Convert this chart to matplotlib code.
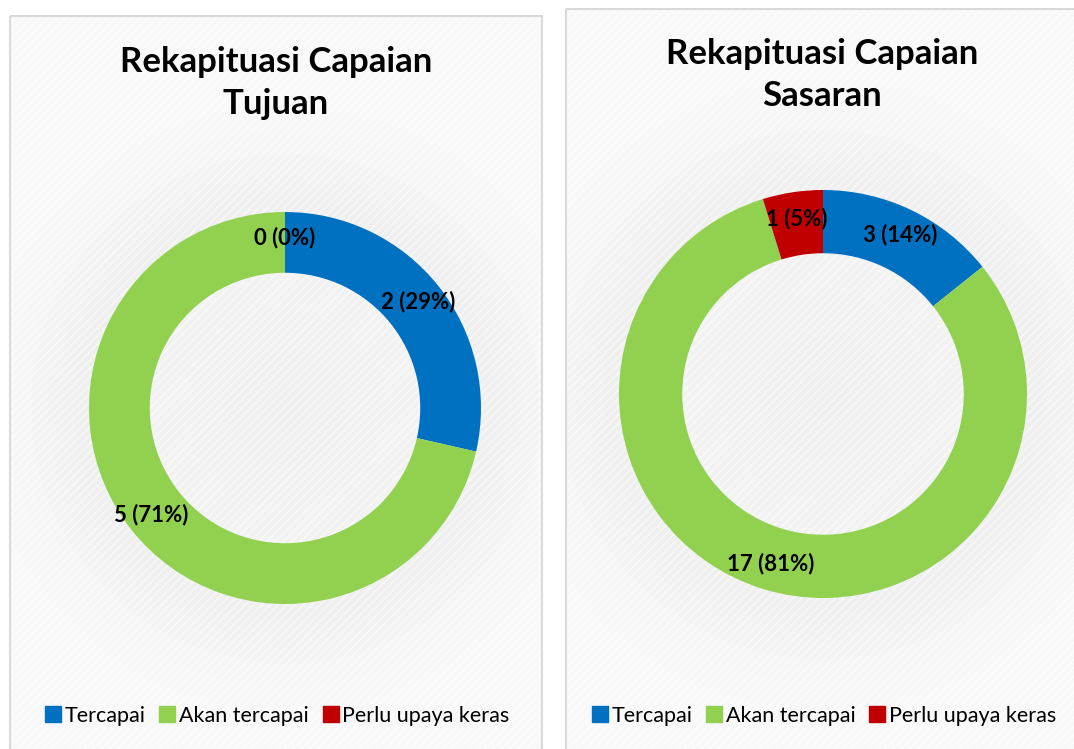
import numpy as np
import matplotlib
matplotlib.use('Agg')
import matplotlib.pyplot as plt
from matplotlib.patches import Rectangle
from matplotlib.lines import Line2D

# data
categories = ['Tercapai', 'Akan tercapai', 'Perlu upaya keras']
colors = ['#0070C0', '#92D050', '#C00000']
tujuan_values = [2, 5, 0]
sasaran_values = [3, 17, 1]
titles = ['Rekapituasi Capaian\nTujuan', 'Rekapituasi Capaian\nSasaran']

W, H = 1074, 749
plt.rcParams['font.family'] = ['Lato', 'DejaVu Sans']
plt.rcParams['hatch.linewidth'] = 1.2
fig = plt.figure(figsize=(W / 100, H / 100), dpi=100)
fig.patch.set_facecolor('white')


def px_box(x0, y0, w, h):
    # kotak w pikselach (od gory) -> ulamki figury
    return [x0 / W, 1 - (y0 + h) / H, w / W, h / H]


def panel(box, title, title_y, values, center, R):
    x0, y0, pw, ph = box
    bg = fig.add_axes(px_box(x0, y0, pw, ph))
    bg.set_xlim(0, pw)
    bg.set_ylim(ph, 0)
    bg.axis('off')
    # cien wokol pierscienia
    xx, yy = np.meshgrid(np.arange(pw), np.arange(ph))
    cx, cy = center[0] - x0, center[1] - y0
    rr = np.hypot(xx - cx, yy - cy)
    field = 0.97 - 0.035 * np.exp(-((rr - R) / (0.3 * R)) ** 2)
    field = np.where(rr < R, 0.935 + 0.02 * (rr / R), field)
    bg.imshow(field, cmap='gray', vmin=0, vmax=1, extent=(0, pw, ph, 0),
              interpolation='bilinear', zorder=0)
    bg.add_patch(Rectangle((0, 0), pw, ph, facecolor='none', edgecolor='white',
                           hatch='////', linewidth=0, alpha=0.55, zorder=1))
    bg.add_patch(Rectangle((0.5, 0.5), pw - 1, ph + 5, facecolor='none',
                           edgecolor='#d9d9d9', linewidth=1.5, zorder=2))
    bg.text(pw / 2, title_y - y0, title, ha='center', va='center',
            fontsize=25, fontweight='bold', linespacing=1.4, zorder=3)

    ax = fig.add_axes(px_box(center[0] - R, center[1] - R, 2 * R, 2 * R))
    wedges, _ = ax.pie(values, colors=colors, startangle=90, counterclock=False,
                       radius=1, wedgeprops=dict(width=0.31, linewidth=0))
    ax.set_xlim(-1, 1)
    ax.set_ylim(-1, 1)
    ax.axis('off')
    total = sum(values)
    for w, v in zip(wedges, values):
        ang = np.deg2rad((w.theta1 + w.theta2) / 2)
        r = 0.87
        ax.text(r * np.cos(ang), r * np.sin(ang), f'{v} ({v / total:.0%})',
                ha='center', va='center', fontsize=16, fontweight='bold')

    handles = [Line2D([], [], marker='s', linestyle='none', markersize=11,
                      markerfacecolor=c, markeredgecolor=c) for c in colors]
    bg.legend(handles, categories, loc='center',
              bbox_to_anchor=(0.5, 1 - (716 - y0) / ph),
              bbox_transform=bg.transAxes, ncol=3, frameon=False, fontsize=15.5,
              handletextpad=0.05, columnspacing=0.5, handlelength=1.0,
              borderaxespad=0)


panel((9, 15, 534, 740), titles[0], 83, tujuan_values, (285, 408), 196)
panel((565, 8, 515, 745), titles[1], 75, sasaran_values, (823, 394), 204)

fig.savefig('out.png', dpi=100)
